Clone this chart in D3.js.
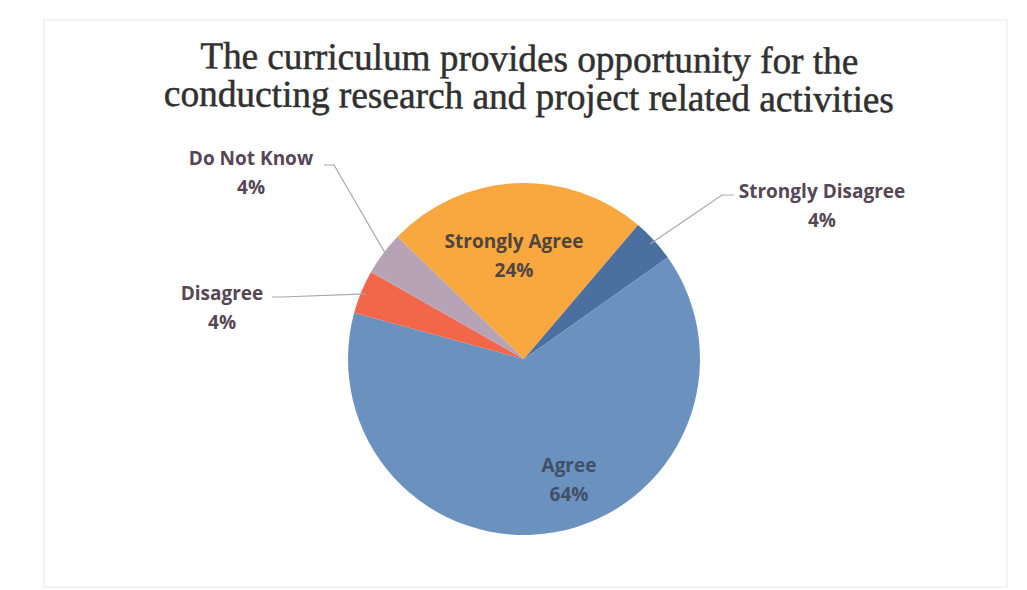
<!DOCTYPE html>
<html>
<head>
<meta charset="utf-8">
<script src="https://cdn.jsdelivr.net/npm/d3@7"></script>
<style>
  html, body { margin: 0; padding: 0; background: #ffffff; }
  svg { display: block; }
</style>
</head>
<body>
<svg id="chart" width="1027" height="590"></svg>
<script>
// ---- data ----
const categories = ["Strongly Agree", "Strongly Disagree", "Agree", "Disagree", "Do Not Know"];
const values = [24, 4, 64, 4, 4];
const percentLabels = ["24%", "4%", "64%", "4%", "4%"];
const colors = ["#f8a83f", "#4b6f9e", "#6b92bf", "#f2664a", "#b6a3b5"];
const titleLines = ["The curriculum provides opportunity for the", "conducting research and project related activities"];

// ---- layout ----
const svg = d3.select("#chart");
const cx = 524, cy = 359, R = 176;

// faint frame
svg.append("rect").attr("x", 44).attr("y", 20).attr("width", 963).attr("height", 567)
  .attr("fill", "none").attr("stroke", "#ebebeb").attr("stroke-width", 1.2);

// title (one text element, two lines)
const titleWidths = [658, 730];
const titleBase = [71, 109];
const title = svg.append("text")
  .attr("transform", "rotate(0.5, 529, 90)")
  .attr("text-anchor", "middle")
  .attr("font-family", "'Liberation Serif', 'Times New Roman', serif")
  .attr("font-size", 38)
  .attr("fill", "#303030")
  .attr("stroke", "#303030")
  .attr("stroke-width", 0.5);
titleLines.forEach((t, i) => {
  title.append("tspan")
    .attr("x", 529).attr("y", titleBase[i])
    .attr("textLength", titleWidths[i])
    .attr("lengthAdjust", "spacingAndGlyphs")
    .text(t);
});

// pie
const data = categories.map((c, i) => ({ name: c, value: values[i], pct: percentLabels[i], color: colors[i] }));
const startA = -46 * Math.PI / 180;
const pie = d3.pie().value(d => d.value).sort(null).startAngle(startA).endAngle(startA + 2 * Math.PI);
const arcs = pie(data);
const arc = d3.arc().innerRadius(0).outerRadius(R);

const g = svg.append("g").attr("transform", `translate(${cx},${cy})`);
g.selectAll("path").data(arcs).enter().append("path")
  .attr("d", arc)
  .attr("fill", d => d.data.color)
  .attr("stroke", "none");

// labels (positions relative to pie centre)
const labelSpec = {
  "Strongly Agree":    { x: -10, y: -111, fill: "#4e4540" },
  "Agree":             { x: 45,  y: 113,  fill: "#3f5068" },
  "Strongly Disagree": { x: 298, y: -161, leader: [[210, -164], [198, -164]] },
  "Do Not Know":       { x: -273, y: -194, leader: [[-200, -194], [-190, -194]] },
  "Disagree":          { x: -302, y: -59, leader: [[-252, -62], [-242, -62]] }
};

const labelFont = "'Open Sans', 'Noto Sans', sans-serif";
arcs.forEach(a => {
  const s = labelSpec[a.data.name];
  const mid = (a.startAngle + a.endAngle) / 2;
  if (s.leader) {
    const ex = R * Math.sin(mid) * 0.97, ey = -R * Math.cos(mid) * 0.97;
    const pts = s.leader.concat([[ex, ey]]);
    g.append("path")
      .attr("d", d3.line()(pts))
      .attr("fill", "none")
      .attr("stroke", "#a8a8a8")
      .attr("stroke-width", 1.2);
  }
  const t = g.append("text")
    .attr("text-anchor", "middle")
    .attr("font-family", labelFont)
    .attr("font-weight", 700)
    .attr("font-size", 19)
    .attr("fill", s.fill || "#554755");
  t.append("tspan").attr("x", s.x).attr("y", s.y).text(a.data.name);
  t.append("tspan").attr("x", s.x).attr("y", s.y + 29).text(a.data.pct);
});
</script>
</body>
</html>
